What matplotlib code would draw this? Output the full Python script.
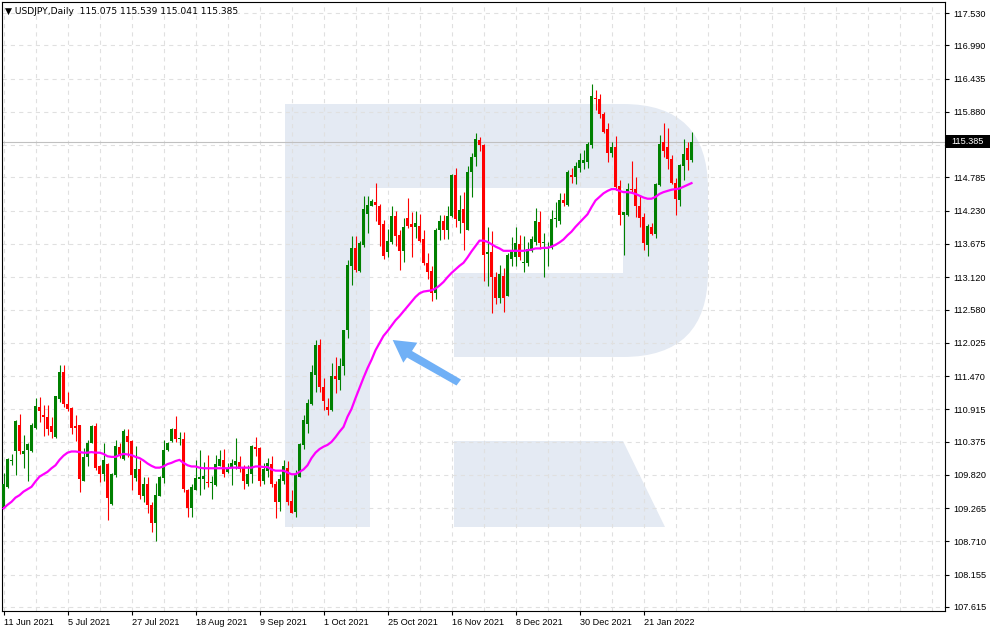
import matplotlib
matplotlib.use("Agg")
import numpy as np
import matplotlib.pyplot as plt
from matplotlib.patches import Rectangle, Polygon, FancyBboxPatch
from matplotlib.transforms import Affine2D, blended_transform_factory

#---------- chart data (USDJPY daily) ----------

opens = [
    109.29, 109.61, 110.05, 110.21, 110.65, 110.17, 110.24, 110.22, 110.61, 110.96,
    110.82, 110.78, 110.64, 110.45, 111.09, 111.53, 111.00, 110.93, 110.63, 110.65,
    109.72, 110.12, 110.36, 110.64, 109.97, 109.84, 110.00, 109.33, 109.82, 110.29,
    110.08, 110.47, 110.38, 109.76, 109.92, 109.47, 109.67, 109.32, 109.02, 109.47,
    109.77, 110.23, 110.39, 110.59, 110.42, 110.42, 109.57, 109.26, 109.57, 109.75,
    109.75, 109.70, 109.68, 109.65, 109.97, 110.07, 109.86, 109.93, 109.98, 110.03,
    109.95, 109.67, 109.83, 110.28, 110.27, 109.72, 109.89, 110.00, 109.67, 109.37,
    109.72, 109.94, 109.38, 109.20, 109.79, 110.32, 110.67, 111.00, 111.49, 111.98,
    111.28, 110.95, 110.90, 111.47, 111.40, 111.63, 112.23, 113.31, 113.60, 113.23,
    113.66, 114.17, 114.31, 114.37, 114.31, 114.01, 113.54, 113.71, 114.14, 113.82,
    113.55, 114.10, 114.01, 113.95, 113.98, 113.75, 113.36, 113.22, 112.86, 113.90,
    114.06, 113.91, 114.14, 114.83, 114.06, 114.25, 113.91, 114.87, 115.12, 115.41,
    115.33, 113.50, 113.54, 113.13, 112.77, 113.14, 112.81, 113.42, 113.46, 113.67,
    113.35, 113.36, 113.55, 113.70, 114.04, 113.69, 113.59, 113.60, 114.09, 114.06,
    114.41, 114.33, 114.83, 114.80, 114.95, 115.03, 115.05, 115.33, 116.11, 116.09,
    115.84, 115.59, 115.19, 115.29, 114.64, 114.15, 114.15, 114.60, 114.59, 114.31,
    114.12, 113.65, 113.95, 113.84, 114.66, 115.37, 115.30, 115.10, 114.69, 114.41,
    114.97, 115.27, 115.075,
]

highs = [
    109.85, 110.10, 110.17, 110.74, 110.83, 110.49, 110.35, 110.68, 111.11, 111.12,
    110.99, 110.99, 110.79, 111.14, 111.65, 111.65, 111.21, 110.96, 110.82, 110.65,
    110.26, 110.40, 110.66, 110.69, 109.99, 110.35, 110.01, 109.85, 110.40, 110.35,
    110.58, 110.58, 110.40, 110.30, 110.07, 109.78, 109.79, 109.37, 109.68, 109.80,
    110.40, 110.37, 110.61, 110.80, 110.54, 110.54, 109.59, 109.67, 110.07, 110.23,
    110.04, 110.15, 109.80, 110.15, 110.23, 110.25, 110.01, 110.08, 110.43, 110.13,
    109.98, 109.98, 110.32, 110.45, 110.29, 110.01, 110.10, 110.13, 109.72, 109.84,
    110.07, 110.05, 109.56, 109.90, 110.36, 110.82, 111.08, 111.65, 112.07, 112.08,
    111.43, 111.10, 111.68, 111.79, 111.77, 112.24, 113.41, 113.80, 113.81, 113.73,
    114.48, 114.48, 114.42, 114.70, 114.35, 114.07, 113.92, 114.31, 114.22, 113.91,
    114.11, 114.45, 114.20, 114.22, 114.17, 113.91, 113.52, 113.30, 113.94, 114.16,
    114.16, 114.31, 114.85, 114.95, 114.49, 114.55, 114.97, 115.20, 115.52, 115.46,
    115.35, 113.95, 113.89, 113.20, 113.33, 113.27, 113.53, 113.79, 113.95, 113.82,
    113.80, 113.70, 113.80, 114.28, 114.23, 113.85, 113.71, 114.24, 114.37, 114.52,
    114.53, 114.91, 114.95, 115.04, 115.20, 115.24, 115.38, 116.35, 116.25, 116.17,
    115.87, 115.69, 115.38, 115.48, 114.74, 114.21, 114.69, 115.06, 114.80, 114.49,
    114.19, 114.01, 114.02, 114.69, 115.49, 115.70, 115.61, 115.16, 114.77, 115.01,
    115.42, 115.38, 115.539,
]

lows = [
    109.26, 109.60, 109.99, 109.81, 110.16, 109.94, 109.71, 110.20, 110.59, 110.71,
    110.47, 110.49, 110.43, 110.43, 111.04, 110.95, 110.88, 110.51, 110.39, 109.54,
    109.71, 109.97, 110.35, 109.90, 109.70, 109.72, 109.06, 109.32, 109.79, 110.10,
    110.07, 110.11, 109.57, 109.72, 109.42, 109.36, 109.18, 108.87, 108.72, 109.46,
    109.69, 110.22, 110.37, 110.37, 110.32, 109.54, 109.11, 109.11, 109.56, 109.48,
    109.59, 109.62, 109.41, 109.63, 109.96, 109.78, 109.85, 109.65, 109.91, 109.86,
    109.58, 109.63, 109.69, 110.13, 109.63, 109.67, 109.79, 109.62, 109.10, 109.21,
    109.67, 109.32, 109.18, 109.12, 109.78, 110.25, 110.52, 110.99, 111.21, 111.21,
    110.90, 110.82, 110.89, 111.19, 111.23, 111.49, 112.10, 112.99, 113.21, 113.21,
    113.62, 113.86, 114.30, 114.06, 113.64, 113.42, 113.45, 113.67, 113.64, 113.24,
    113.38, 113.94, 113.46, 113.77, 113.70, 113.32, 113.09, 112.73, 112.75, 113.74,
    113.75, 113.75, 114.13, 113.95, 113.86, 113.57, 113.90, 114.46, 114.97, 115.23,
    113.05, 112.98, 112.53, 112.67, 112.69, 112.54, 112.80, 113.31, 113.31, 113.41,
    113.21, 113.30, 113.54, 113.66, 113.59, 113.13, 113.31, 113.59, 113.95, 114.01,
    114.30, 114.31, 114.70, 114.67, 114.87, 114.92, 114.94, 115.27, 115.91, 115.77,
    115.52, 115.04, 115.12, 114.58, 113.99, 113.49, 114.14, 114.52, 114.13, 113.96,
    113.57, 113.47, 113.82, 113.77, 114.64, 115.13, 114.92, 114.68, 114.16, 114.30,
    114.75, 114.91, 115.041,
]

closes = [
    109.66, 110.09, 110.07, 110.72, 110.22, 110.22, 110.34, 110.66, 110.97, 110.88,
    110.78, 110.59, 110.54, 111.13, 111.54, 111.00, 110.92, 110.61, 110.61, 109.75,
    110.12, 110.36, 110.64, 109.94, 109.84, 110.06, 109.44, 109.83, 110.30, 110.15,
    110.55, 110.37, 109.82, 109.92, 109.48, 109.67, 109.32, 109.02, 109.48, 109.79,
    110.23, 110.36, 110.59, 110.42, 110.43, 109.58, 109.26, 109.61, 109.76, 109.78,
    109.80, 109.69, 109.69, 110.00, 110.08, 109.83, 109.94, 110.01, 110.05, 109.91,
    109.71, 109.83, 110.30, 110.25, 109.72, 109.92, 110.02, 109.67, 109.37, 109.75,
    109.97, 109.37, 109.19, 109.83, 110.33, 110.74, 111.02, 111.53, 111.99, 111.28,
    111.06, 110.90, 111.47, 111.42, 111.64, 112.23, 113.32, 113.60, 113.24, 113.69,
    114.25, 114.33, 114.39, 114.33, 113.99, 113.48, 113.72, 114.14, 113.81, 113.55,
    113.95, 113.97, 113.95, 114.02, 113.72, 113.36, 113.21, 112.86, 113.91, 114.06,
    113.90, 114.14, 114.83, 114.09, 114.24, 114.02, 114.88, 115.13, 115.43, 115.32,
    113.49, 113.54, 113.13, 112.78, 113.18, 112.78, 113.49, 113.57, 113.69, 113.45,
    113.37, 113.59, 113.76, 114.06, 113.69, 113.70, 113.63, 114.09, 114.11, 114.41,
    114.36, 114.88, 114.80, 114.98, 115.08, 115.07, 115.34, 116.14, 116.09, 115.84,
    115.55, 115.20, 115.29, 114.63, 114.15, 114.20, 114.60, 114.58, 114.30, 114.11,
    113.69, 113.97, 113.84, 114.68, 115.35, 115.22, 115.10, 114.69, 114.42, 114.99,
    115.18, 115.08, 115.385,
]

# magenta moving average, as drawn on the chart
ma_values = [
    109.26, 109.32, 109.37, 109.44, 109.48, 109.54, 109.58, 109.62, 109.71, 109.79,
    109.83, 109.87, 109.93, 109.98, 110.07, 110.14, 110.19, 110.21, 110.21, 110.20,
    110.19, 110.19, 110.20, 110.19, 110.19, 110.17, 110.13, 110.12, 110.12, 110.15,
    110.17, 110.16, 110.15, 110.12, 110.10, 110.06, 110.01, 109.97, 109.94, 109.94,
    109.96, 110.00, 110.02, 110.05, 110.07, 110.02, 109.98, 109.96, 109.96, 109.94,
    109.93, 109.93, 109.93, 109.93, 109.93, 109.93, 109.93, 109.94, 109.94, 109.94,
    109.94, 109.94, 109.94, 109.96, 109.96, 109.95, 109.95, 109.91, 109.89, 109.89,
    109.89, 109.86, 109.83, 109.83, 109.87, 109.91, 109.98, 110.10, 110.19, 110.25,
    110.29, 110.32, 110.37, 110.45, 110.54, 110.62, 110.79, 110.92, 111.10, 111.27,
    111.44, 111.60, 111.74, 111.90, 112.02, 112.14, 112.22, 112.31, 112.40, 112.47,
    112.55, 112.63, 112.71, 112.79, 112.85, 112.88, 112.89, 112.90, 112.93, 112.98,
    113.04, 113.12, 113.19, 113.25, 113.31, 113.36, 113.45, 113.55, 113.64, 113.73,
    113.73, 113.71, 113.67, 113.63, 113.60, 113.56, 113.56, 113.56, 113.56, 113.56,
    113.56, 113.57, 113.58, 113.60, 113.60, 113.61, 113.61, 113.63, 113.66, 113.70,
    113.75, 113.82, 113.88, 113.96, 114.03, 114.10, 114.17, 114.29, 114.40, 114.46,
    114.52, 114.56, 114.59, 114.59, 114.56, 114.54, 114.54, 114.53, 114.51, 114.48,
    114.45, 114.43, 114.43, 114.46, 114.51, 114.54, 114.56, 114.58, 114.59, 114.60,
    114.63, 114.66, 114.69,
]

date_labels = ["11 Jun 2021", "5 Jul 2021", "27 Jul 2021", "18 Aug 2021", "9 Sep 2021",
               "1 Oct 2021", "25 Oct 2021", "16 Nov 2021", "8 Dec 2021", "30 Dec 2021",
               "21 Jan 2022"]
date_bars = [0, 16, 32, 48, 64, 80, 96, 112, 128, 144, 160]

price_ticks = [117.530, 116.990, 116.435, 115.880, 115.330, 114.785, 114.230, 113.675,
               113.120, 112.580, 112.025, 111.470, 110.915, 110.375, 109.820, 109.265,
               108.710, 108.155, 107.615]
price_labels = ["117.530", "116.990", "116.435", "115.880", "", "114.785", "114.230",
                "113.675", "113.120", "112.580", "112.025", "111.470", "110.915",
                "110.375", "109.820", "109.265", "108.710", "108.155", "107.615"]

last_price = 115.385
header = "\u25BC USDJPY,Daily  115.075 115.539 115.041 115.385"

#---------- figure setup ----------

W, H = 993, 630
plt.rcParams['font.family'] = ['Liberation Sans', 'DejaVu Sans']
plt.rcParams['lines.scale_dashes'] = False

fig = plt.figure(figsize=(W / 100, H / 100), dpi=100)
fig.patch.set_facecolor('white')
ax = fig.add_axes([2 / W, 1 - 611 / H, 943 / W, 609 / H])
ax.set_facecolor('white')

# pixel coords (y down) -> figure, used for the watermark and arrow
px = Affine2D().scale(1 / W, -1 / H).translate(0, 1) + fig.transFigure

ax.set_xlim(-0.375, 235.375)
ax.set_ylim(107.547, 117.714)

#---------- watermark "R" ----------

wm = '#e4eaf3'
ax.add_patch(FancyBboxPatch((285, 104), 423, 253, boxstyle="round,pad=0,rounding_size=85",
                            transform=px, fc=wm, ec='none', zorder=0.1))
ax.add_patch(Rectangle((285, 104), 85, 423, transform=px, fc=wm, ec='none', zorder=0.15))
ax.add_patch(Rectangle((370, 188), 253, 85, transform=px, fc='white', ec='none', zorder=0.2))
ax.add_patch(Rectangle((370, 273), 84, 84, transform=px, fc='white', ec='none', zorder=0.2))
ax.add_patch(Polygon([(454, 441), (623, 441), (665, 527), (454, 527)], closed=True,
                     transform=px, fc=wm, ec='none', zorder=0.1))

#---------- grid ----------

ax.set_axisbelow(True)
for p in price_ticks:
    ax.axhline(p, color='#e0e0e0', lw=0.8, ls=(0, (3, 3)), zorder=0.5)
for b in range(0, 236, 8):
    ax.axvline(b, color='#e0e0e0', lw=0.8, ls=(0, (3, 3)), zorder=0.5)

# current price line
ax.axhline(last_price, color='#c0c0c0', lw=0.8, zorder=0.6)

#---------- candles ----------

idx = np.arange(len(closes))
o = np.array(opens)
h = np.array(highs)
l = np.array(lows)
c = np.array(closes)
up = c >= o
colors = np.where(up, '#008000', '#ff0000')
body_low = np.minimum(o, c)
body_h = np.maximum(np.abs(c - o), 0.018)

ax.vlines(idx, l, h, colors=colors, linewidth=0.8, zorder=3)
ax.bar(idx, body_h, bottom=body_low, width=0.78, color=colors, linewidth=0, zorder=4)

# moving average
ax.plot(idx, ma_values, color='#ff00ff', lw=1.6, zorder=5)

#---------- arrow ----------

arrow = [(392.7, 340.0), (417.3, 342.7), (412.0, 351.0), (461.0, 379.5),
         (456.5, 385.5), (407.0, 357.5), (403.3, 362.7)]
ax.add_patch(Polygon(arrow, closed=True, transform=px, fc='#70b0f6', ec='none', zorder=6))

#---------- axes, ticks, labels ----------

for s in ax.spines.values():
    s.set_color('black')
    s.set_linewidth(0.8)

ax.yaxis.tick_right()
ax.set_yticks(price_ticks)
ax.set_yticklabels(price_labels)
ax.tick_params(axis='y', direction='out', length=3, width=0.8, pad=3, labelsize=6.6)

ax.set_xticks(date_bars)
ax.set_xticklabels(date_labels, ha='left')
ax.tick_params(axis='x', direction='out', length=3, width=0.8, pad=2, labelsize=6.6)

# current price box on the right scale
blend = blended_transform_factory(px, ax.transData)
ax.add_patch(Rectangle((946, last_price - 0.105), 44, 0.21, transform=blend,
                       fc='black', ec='none', clip_on=False, zorder=10))
ax.text(951, last_price, "%.3f" % last_price, transform=blend, color='white',
        fontsize=6.6, va='center', ha='left', clip_on=False, zorder=11)

# header
fig.text(5 / W, 1 - 11 / H, header, fontsize=6.6, va='center', ha='left',
         family=['DejaVu Sans'])

fig.savefig('out.png', dpi=100)
